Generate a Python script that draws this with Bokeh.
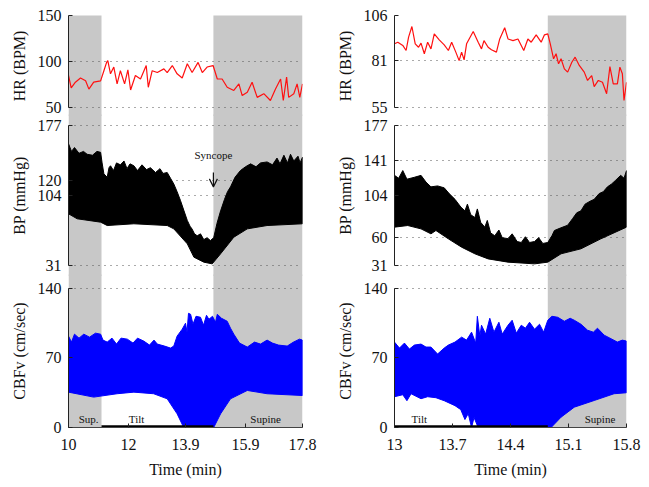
from bokeh.plotting import figure
from bokeh.layouts import row, column
from bokeh.models import Range1d, FixedTicker, Arrow, OpenHead, Label
from bokeh.embed import file_html
from bokeh.resources import INLINE

# ---------------- data: left recording ----------------
L_x_ticks = [10, 12, 13.9, 15.9, 17.8]
L_x_labels = ["10", "12", "13.9", "15.9", "17.8"]
L_supine_start = [10.0, 14.83]
L_supine_end = [11.1, 17.8]
L_tilt = [11.1, 14.83]

L_hr_t = [10.0, 10.09, 10.23, 10.4, 10.57, 10.68, 10.84, 11.07, 11.18, 11.27, 11.31, 11.4,
          11.51, 11.62, 11.73, 11.87, 11.98, 12.07, 12.23, 12.4, 12.59, 12.66, 12.79, 12.96,
          13.18, 13.29, 13.46, 13.62, 13.79, 13.96, 14.12, 14.32, 14.46, 14.62, 14.82, 14.96,
          15.12, 15.29, 15.51, 15.68, 15.79, 15.96, 16.12, 16.29, 16.51, 16.73, 16.9, 17.07,
          17.16, 17.27, 17.34, 17.51, 17.62, 17.71, 17.8]
L_hr = [84.8, 71.4, 77.5, 82, 79, 70, 77.5, 79, 90, 99, 101, 86.6,
        94, 75.7, 90, 75.7, 91, 69, 84.8, 81, 95.6, 72, 90, 88,
        92, 88, 95.6, 86.6, 82, 97.5, 88, 99, 88, 94, 95.6, 81,
        81, 72, 68.5, 75.7, 63, 66.7, 77.5, 61, 65, 57.6, 70, 81,
        57.6, 83, 61, 65, 75.7, 61, 75.7]

L_bp_hi_t = [10.0, 10.1, 10.2, 10.35, 10.5, 10.62, 10.8, 10.95, 11.07, 11.12, 11.18, 11.29,
             11.35, 11.4, 11.5, 11.6, 11.73, 11.85, 11.95, 12.05, 12.18, 12.3, 12.45, 12.6,
             12.73, 12.9, 13.05, 13.15, 13.29, 13.4, 13.51, 13.62, 13.73, 13.85, 13.96, 14.05,
             14.12, 14.2, 14.29, 14.4, 14.51, 14.62, 14.73, 14.84, 14.95, 15.07, 15.2, 15.3,
             15.4, 15.55, 15.73, 15.9, 16.07, 16.25, 16.4, 16.62, 16.8, 16.95, 17.05, 17.18,
             17.3, 17.4, 17.51, 17.65, 17.72, 17.8]
L_bp_hi = [158, 150, 154, 148, 150, 147, 146, 150, 149, 138, 126.6, 123,
           133, 135, 130, 138, 136, 140, 132, 137, 135, 130, 136, 131,
           133, 128, 132, 127, 128, 122, 116, 108, 99, 88, 78, 72,
           69, 64, 62, 64, 58, 60, 57, 60, 75, 88, 100, 108,
           113, 123, 130, 134, 137, 134, 138, 139, 136, 143, 137, 146,
           138, 147, 140, 145, 138, 144]
L_bp_lo_t = [10.0, 10.29, 11.07, 11.29, 12.18, 13.29, 13.51, 13.96, 14.18, 14.51, 14.79, 15.07,
             15.51, 15.96, 16.62, 17.8]
L_bp_lo = [84.9, 79.7, 76.2, 72.7, 74.5, 72.7, 69.2, 53.6, 39.7, 34.5, 32.7, 43.2,
           60.5, 69.2, 72.7, 74.5]

L_cb_hi_t = [10.0, 10.1, 10.2, 10.35, 10.51, 10.7, 10.9, 11.07, 11.15, 11.29, 11.45, 11.6,
             11.75, 11.96, 12.15, 12.3, 12.51, 12.7, 12.85, 12.96, 13.2, 13.4, 13.51, 13.62,
             13.79, 13.9, 13.95, 14.0, 14.07, 14.15, 14.25, 14.4, 14.5, 14.6, 14.68, 14.8,
             14.9, 14.96, 15.1, 15.29, 15.4, 15.51, 15.7, 15.96, 16.2, 16.4, 16.62, 16.8,
             17.0, 17.29, 17.5, 17.7, 17.8]
L_cb_hi = [92, 86, 94, 90, 94, 91, 95, 94, 88, 86, 90, 84,
           90, 89, 85, 90, 87, 83, 88, 84, 82, 80, 82, 92,
           99, 105, 96, 115, 114, 104, 112, 111, 103, 113, 109, 112,
           106, 114, 110, 107, 100, 94, 85, 81, 86, 84, 88, 85,
           83, 82, 86, 89, 88]
L_cb_lo_t = [10.0, 10.84, 11.62, 12.18, 12.84, 13.29, 13.62, 13.84, 14.84, 15.07, 15.4, 15.96,
             16.62, 17.8]
L_cb_lo = [35.6, 30.6, 34, 35.6, 34, 28.9, 13.8, 0, 0, 13.8, 28.9, 37.3, 34, 32.2]

L_phase_labels = ["Sup.", "Tilt", "Supine"]
L_phase_x = [10.67, 12.27, 16.57]

# ---------------- data: right recording ----------------
R_x_ticks = [13, 13.7, 14.4, 15.1, 15.8]
R_x_labels = ["13", "13.7", "14.4", "15.1", "15.8"]
R_supine_start = [14.85]
R_supine_end = [15.8]
R_tilt = [13.0, 14.85]

R_hr_t = [13.0, 13.04, 13.1, 13.14, 13.17, 13.21, 13.25, 13.29, 13.32, 13.36, 13.4, 13.44,
          13.48, 13.54, 13.6, 13.65, 13.69, 13.74, 13.78, 13.81, 13.84, 13.87, 13.95, 14.01,
          14.05, 14.08, 14.13, 14.17, 14.23, 14.27, 14.33, 14.37, 14.43, 14.49, 14.56, 14.61,
          14.65, 14.71, 14.77, 14.81, 14.85, 14.88, 14.92, 14.95, 14.98, 15.01, 15.05, 15.09,
          15.14, 15.18, 15.23, 15.29, 15.33, 15.38, 15.41, 15.46, 15.51, 15.56, 15.6, 15.64,
          15.69, 15.72, 15.75, 15.77, 15.8]
R_hr = [90.3, 91.2, 89.4, 86.6, 94, 99.9, 90.3, 88.4, 90.7, 84.8, 91.2, 87.5,
        95.8, 92.5, 89.7, 86.6, 91.2, 85.7, 81, 85.7, 81.4, 90.3, 97.1, 91.2,
        87.5, 92.1, 88.4, 87, 85.7, 93, 99.2, 93, 92.1, 93, 86.6, 93,
        91.2, 95.3, 91.2, 95.3, 95.8, 90.3, 82, 84.8, 79.2, 82, 76.4, 74.6,
        80.1, 82.9, 78.3, 74.6, 70, 72.7, 66.6, 70, 69, 62.6, 77.7, 68.1,
        68.1, 77.4, 73.7, 58.9, 69]

R_bp_hi_t = [13.0, 13.05, 13.1, 13.15, 13.24, 13.32, 13.38, 13.44, 13.52, 13.6, 13.66, 13.73,
             13.8, 13.85, 13.88, 13.92, 13.97, 14.0, 14.04, 14.09, 14.12, 14.16, 14.21, 14.26,
             14.3, 14.37, 14.42, 14.48, 14.53, 14.58, 14.63, 14.69, 14.74, 14.79, 14.85, 14.9,
             14.93, 15.0, 15.09, 15.15, 15.2, 15.25, 15.3, 15.36, 15.41, 15.47, 15.52, 15.57,
             15.62, 15.67, 15.73, 15.77, 15.8]
R_bp_hi = [125, 122, 130, 121, 123, 125, 118, 113, 114, 112, 106, 100,
           92, 88, 95, 84, 81, 90, 76, 71, 78, 65, 62, 68,
           60, 59, 64, 56, 55, 61, 55, 56, 60, 54, 55, 62,
           67.5, 70, 73, 80, 86, 88, 95, 98, 100, 106, 108, 113,
           116, 120, 125, 122, 130]
R_bp_lo_t = [13.0, 13.16, 13.32, 13.44, 13.5, 13.65, 13.81, 13.97, 14.13, 14.37, 14.69, 14.85,
             15.01, 15.25, 15.49, 15.8]
R_bp_lo = [71, 72.7, 69.2, 64, 67.5, 58.8, 50.1, 43.2, 37.9, 34.5, 32.7, 34.5,
           43.2, 48.4, 58.8, 71]

R_cb_hi_t = [13.0, 13.06, 13.12, 13.18, 13.24, 13.32, 13.38, 13.44, 13.52, 13.6, 13.65, 13.73,
             13.81, 13.87, 13.93, 13.98, 14.0, 14.03, 14.05, 14.1, 14.15, 14.2, 14.26, 14.3,
             14.37, 14.42, 14.47, 14.53, 14.58, 14.63, 14.69, 14.75, 14.8, 14.85, 14.9, 14.97,
             15.05, 15.12, 15.17, 15.25, 15.33, 15.4, 15.45, 15.53, 15.6, 15.69, 15.75, 15.8]
R_cb_hi = [86, 80, 85, 79, 83, 84, 81, 81, 74, 80, 83, 86,
           91, 88, 96, 85, 112, 92, 103, 94, 110, 96, 106, 94,
           103, 108, 95, 103, 100, 106, 99, 104, 96, 108, 112, 111,
           107, 110, 108, 104, 98, 96, 100, 93, 90, 86, 88, 87]
R_cb_lo_t = [13.0, 13.1, 13.15, 13.2, 13.32, 13.4, 13.5, 13.6, 13.73, 13.8, 13.85, 13.89,
             13.93, 13.96, 14.01, 14.89, 15.01, 15.17, 15.41, 15.65, 15.8]
R_cb_lo = [31, 33, 27, 34, 29, 31, 30, 27, 22, 18, 8, 14,
           0, 10, 0, 0, 10.4, 20.5, 27.2, 34, 35]

R_phase_labels = ["Tilt", "Supine"]
R_phase_x = [13.3, 15.48]

HR_L_ticks = [50, 100, 150]
HR_R_ticks = [55, 81, 106]
BP_L_ticks = [31, 104, 120, 177]
BP_R_ticks = [31, 60, 104, 141, 177]
CB_ticks = [0, 70, 140]

SYNC_X = 14.83
SYNC_TEXT = "Syncope"

FONT = "Liberation Serif"
GRAY = "#c8c8c8"
OVERLAP = 2


def make_panel(xr, yr, ticks, label, width, height, left, right, top=0, bottom=0,
               xaxis=False, xticks=None, xlabels=None, bands=((), ()), margin_top=0):
    p = figure(width=width, height=height, x_range=xr, y_range=yr,
               output_backend="svg", toolbar_location=None,
               x_axis_location="below" if xaxis else None,
               min_border_left=left, min_border_right=right,
               min_border_top=top, min_border_bottom=bottom,
               margin=(margin_top, 0, 0, 0))
    p.outline_line_color = None
    p.border_fill_color = None
    p.background_fill_color = None
    starts, ends = bands
    r = p.quad(left=list(starts), right=list(ends),
               bottom=[yr.start - 50] * len(starts), top=[yr.end + 50] * len(starts),
               fill_color=GRAY, line_color=None)
    r.level = "image"
    ya = p.yaxis[0]
    ya.ticker = FixedTicker(ticks=ticks)
    ya.bounds = (ticks[0], ticks[-1])
    ya.minor_tick_line_color = None
    ya.major_tick_in = 4
    ya.major_tick_out = 0
    ya.axis_line_color = "#222222"
    ya.major_tick_line_color = "#222222"
    ya.major_label_text_font = FONT
    ya.major_label_text_font_size = "16px"
    ya.major_label_text_color = "#111111"
    ya.major_label_standoff = 7
    ya.axis_label = label
    ya.axis_label_text_font = FONT
    ya.axis_label_text_font_size = "16px"
    ya.axis_label_text_font_style = "normal"
    ya.axis_label_text_color = "#111111"
    ya.axis_label_standoff = 7
    p.ygrid.ticker = FixedTicker(ticks=ticks)
    p.ygrid.grid_line_color = "#555555"
    p.ygrid.grid_line_dash = "1 5"
    p.ygrid.grid_line_width = 1
    p.ygrid.level = "underlay"
    p.xgrid.visible = False
    if xaxis:
        xa = p.xaxis[0]
        xa.ticker = FixedTicker(ticks=xticks)
        xa.major_label_overrides = {t: s for t, s in zip(xticks, xlabels)}
        xa.bounds = (xticks[0], xticks[-1])
        xa.minor_tick_line_color = None
        xa.major_tick_in = 4
        xa.major_tick_out = 0
        xa.axis_line_color = "#444444"
        xa.major_tick_line_color = "#222222"
        xa.major_label_text_font = FONT
        xa.major_label_text_font_size = "16px"
        xa.major_label_text_color = "#111111"
        xa.major_label_standoff = 11
        xa.axis_label = "Time (min)"
        xa.axis_label_text_font = FONT
        xa.axis_label_text_font_size = "16px"
        xa.axis_label_text_font_style = "normal"
        xa.axis_label_text_color = "#111111"
        xa.axis_label_standoff = 8
    return p


def build(side):
    if side == "L":
        xr = Range1d(10, 17.8)
        width, left, right = 333, 68, 31
        hr_t, hr, hr_ticks, hr_range = L_hr_t, L_hr, HR_L_ticks, (40.22, 150)
        bp_ticks = BP_L_ticks
        bands, tilt = (L_supine_start, L_supine_end), L_tilt
        bph_t, bph, bpl_t, bpl = L_bp_hi_t, L_bp_hi, L_bp_lo_t, L_bp_lo
        cbh_t, cbh, cbl_t, cbl = L_cb_hi_t, L_cb_hi, L_cb_lo_t, L_cb_lo
        xticks, xlabels = L_x_ticks, L_x_labels
        ph_lab, ph_x = L_phase_labels, L_phase_x
    else:
        xr = Range1d(13, 15.8)
        width, left, right = 308, 60, 15
        hr_t, hr, hr_ticks, hr_range = R_hr_t, R_hr, HR_R_ticks, (50.01, 106)
        bp_ticks = BP_R_ticks
        bands, tilt = (R_supine_start, R_supine_end), R_tilt
        bph_t, bph, bpl_t, bpl = R_bp_hi_t, R_bp_hi, R_bp_lo_t, R_bp_lo
        cbh_t, cbh, cbl_t, cbl = R_cb_hi_t, R_cb_hi, R_cb_lo_t, R_cb_lo
        xticks, xlabels = R_x_ticks, R_x_labels
        ph_lab, ph_x = R_phase_labels, R_phase_x

    p1 = make_panel(xr, Range1d(*hr_range), hr_ticks, "HR (BPM)", width, 116, left, right,
                    top=15, bands=bands)
    p1.line(hr_t, hr, line_color="#ff1010", line_width=1.2)

    # BP frame: 0.9589 px per mmHg, extended upward by the overlap
    p2 = make_panel(xr, Range1d(19.53, 186.39 + OVERLAP / 0.9589), bp_ticks, "BP (mmHg)",
                    width, 160 + OVERLAP, left, right, bands=bands, margin_top=-OVERLAP)
    p2.patch(bph_t + bpl_t[::-1], bph + bpl[::-1], fill_color="black", line_color="black",
             line_width=1)
    if side == "L":
        p2.add_layout(Label(x=SYNC_X, y=146, text=SYNC_TEXT, text_align="center",
                            text_baseline="middle", text_font=FONT, text_font_size="11px",
                            text_color="#111111"))
        p2.add_layout(Arrow(end=OpenHead(size=8, line_width=1.2, line_color="#111111"),
                            x_start=SYNC_X, y_start=128, x_end=SYNC_X, y_end=113,
                            line_width=1.2, line_color="#111111"))

    p3 = make_panel(xr, Range1d(0, 152.07 + OVERLAP / 0.993), CB_ticks, "CBFv (cm/sec)",
                    width, 209 + OVERLAP, left, right, bottom=58, xaxis=True,
                    xticks=xticks, xlabels=xlabels, bands=bands, margin_top=-OVERLAP)
    p3.patch(cbh_t + cbl_t[::-1], cbh + cbl[::-1], fill_color="#0000ff", line_color="#0000ff",
             line_width=1)
    p3.line(tilt, [1, 1], line_color="black", line_width=2.5)
    for lab, x in zip(ph_lab, ph_x):
        p3.add_layout(Label(x=x, y=9, text=lab, text_align="center", text_baseline="middle",
                            text_font=FONT, text_font_size="11px", text_color="#111111"))
    return column(p1, p2, p3, spacing=0)


layout = row(build("L"), build("R"), spacing=0)
open("out.html", "w").write(file_html(layout, INLINE))
